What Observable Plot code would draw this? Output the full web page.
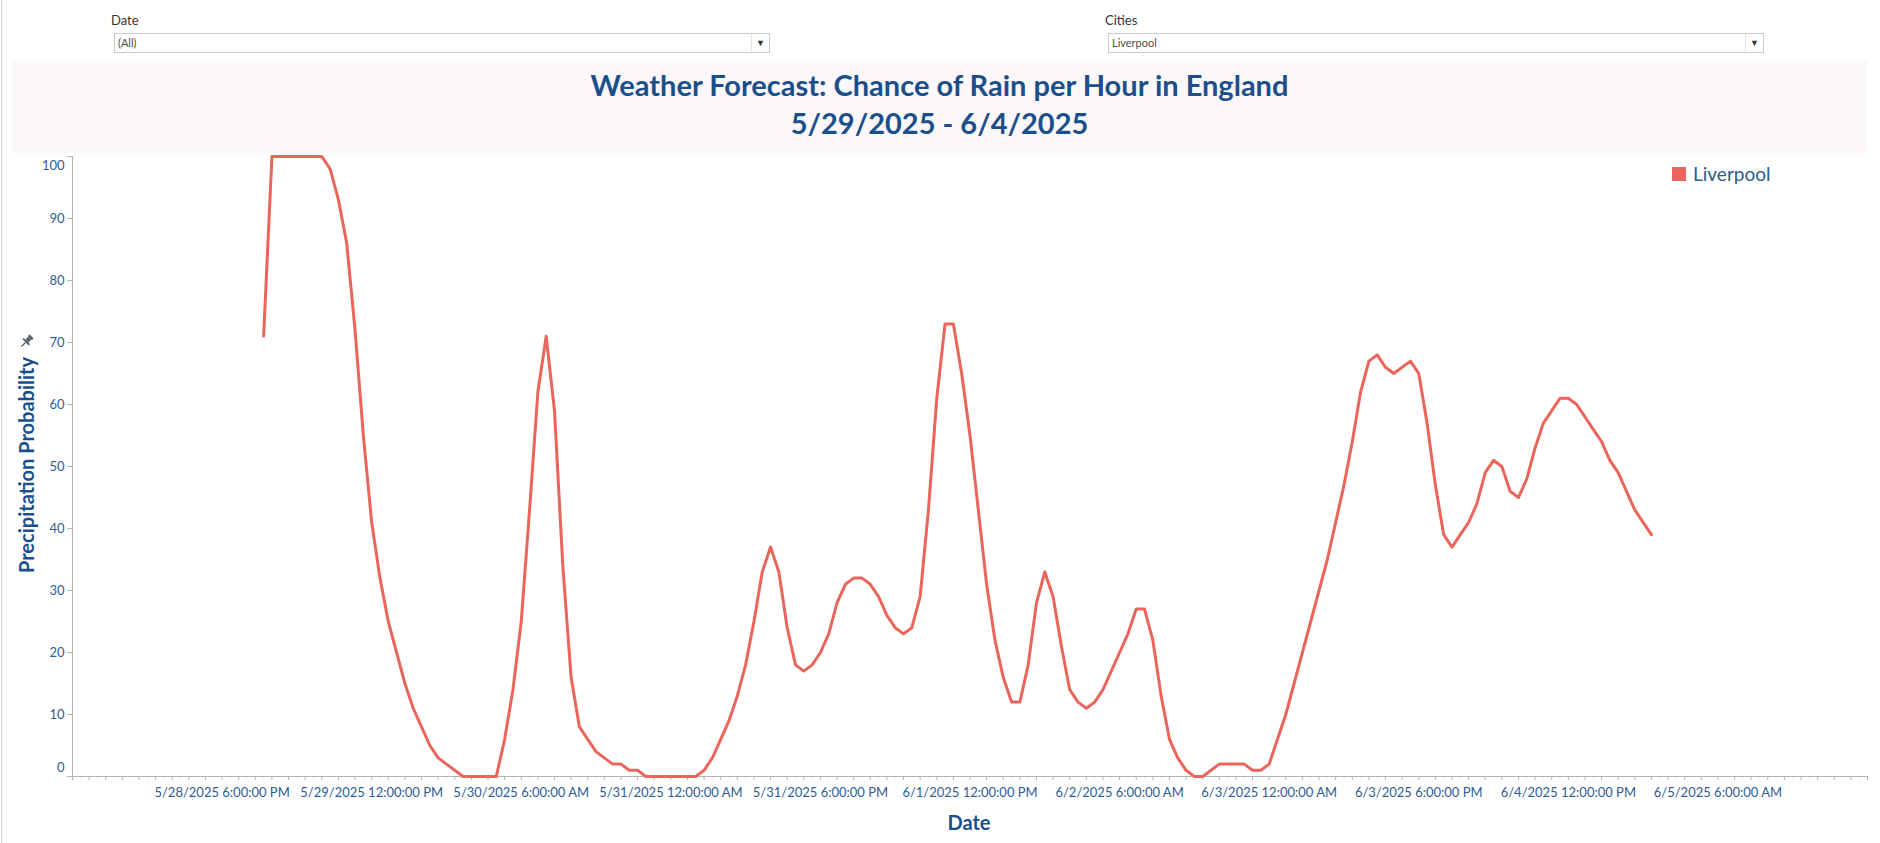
<!DOCTYPE html>
<html>
<head>
<meta charset="utf-8">
<script src="https://cdn.jsdelivr.net/npm/d3@7"></script>
<script src="https://cdn.jsdelivr.net/npm/@observablehq/plot@0.6"></script>
<style>
  html, body { margin: 0; padding: 0; }
  body { width: 1880px; height: 843px; position: relative; background: #fff; overflow: hidden; font-family: Lato, "Open Sans", sans-serif; }
  .abs { position: absolute; }
  .flabel { font-size: 13px; color: #333; line-height: 16px; }
  .dd { height: 18px; border: 1px solid #c9c9c9; background: #fff; box-sizing: content-box; }
  .dd .val { position: absolute; left: 3px; top: 0; line-height: 18px; font-size: 11px; color: #4a4a4a; }
  .dd .arr { position: absolute; right: 0; top: 0; width: 17px; height: 18px; border-left: 1px solid #e6e6e6; font-size: 9px; line-height: 18px; text-align: center; color: #333; }
  .title { left: 12px; width: 1855px; text-align: center; font-weight: 700; font-size: 29px; line-height: 34px; color: #1b4f8a; }
  .axtitle { font-weight: 700; font-size: 20px; line-height: 24px; color: #1b4f8a; white-space: nowrap; }
</style>
</head>
<body>
<div class="abs" style="left:1px;top:0;width:1px;height:843px;background:#d2d2d2"></div>

<div class="abs flabel" style="left:111px;top:12px">Date</div>
<div class="abs dd" style="left:114px;top:33px;width:654px"><span class="val">(All)</span><span class="arr">&#9660;</span></div>
<div class="abs flabel" style="left:1105px;top:12px">Cities</div>
<div class="abs dd" style="left:1108px;top:33px;width:654px"><span class="val">Liverpool</span><span class="arr">&#9660;</span></div>

<div class="abs" style="left:12px;top:61px;width:1855px;height:92px;background:#fcf7fa"></div>
<div class="abs title" style="top:68px">Weather Forecast: Chance of Rain per Hour in England</div>
<div class="abs title" style="top:106px">5/29/2025 - 6/4/2025</div>

<div id="chart" class="abs" style="left:0;top:153px"></div>

<div class="abs" id="legendSwatch" style="left:1672px;top:167px;width:14px;height:14px"></div>
<div class="abs" style="left:1693px;top:162px;font-size:19px;line-height:24px;color:#2c5b8f">Liverpool</div>

<!-- axis titles -->
<div class="abs axtitle" id="ytitle" style="left:26px;top:465px;transform:translate(-50%,-50%) rotate(-90deg)">Precipitation Probability</div>
<div class="abs axtitle" id="xtitle" style="left:969px;top:822px;transform:translate(-50%,-50%)">Date</div>

<svg class="abs" style="left:19px;top:334px" width="15" height="15" viewBox="0 0 14 14">
  <g transform="rotate(45 7 7)" fill="#5f6368">
    <rect x="4.3" y="0.3" width="5.4" height="2.2" rx="0.5"/>
    <rect x="5" y="2.5" width="4" height="4"/>
    <rect x="2.8" y="6.4" width="8.4" height="1.8" rx="0.5"/>
    <rect x="6.4" y="8" width="1.2" height="5.7"/>
  </g>
</svg>

<script>
// ---- data ----
const city = "Liverpool";
const firstHour = "2025-05-28T23:00:00Z";   // first hourly reading
const precipitation = [
  71,100,100,100,100,100,100,100,98,93,86,72,55,41,32,25,20,15,11,8,5,3,2,1,
  0,0,0,0,0,6,14,25,43,62,71,59,34,16,8,6,4,3,2,2,1,1,0,0,
  0,0,0,0,0,1,3,6,9,13,18,25,33,37,33,24,18,17,18,20,23,28,
  31,32,32,31,29,26,24,23,24,29,43,61,73,73,65,55,43,31,22,16,12,12,18,28,
  33,29,21,14,12,11,12,14,17,20,23,27,27,22,13,6,3,1,0,0,1,2,2,2,
  2,1,1,2,6,10,15,20,25,30,35,41,47,54,62,67,68,66,65,66,67,65,57,47,
  39,37,39,41,44,49,51,50,46,45,48,53,57,59,61,61,60,58,56,54,51,49,46,43,
  41,39
];
const xDomain = ["2025-05-28T00:00:00Z", "2025-06-06T00:00:00Z"];
const xLabelTicks = [
  "2025-05-28T18:00:00Z", "2025-05-29T12:00:00Z", "2025-05-30T06:00:00Z",
  "2025-05-31T00:00:00Z", "2025-05-31T18:00:00Z", "2025-06-01T12:00:00Z",
  "2025-06-02T06:00:00Z", "2025-06-03T00:00:00Z", "2025-06-03T18:00:00Z",
  "2025-06-04T12:00:00Z", "2025-06-05T06:00:00Z"
];
const yTicks = [0, 10, 20, 30, 40, 50, 60, 70, 80, 90, 100];

// ---- styles ----
const lineColor = "#ea665c";
const tickColor = "#2e5d92";
const axisGray = "#b3b3b3";

document.getElementById("legendSwatch").style.background = lineColor;

const t0 = Date.parse(firstHour);
const rows = precipitation.map((v, i) => ({date: new Date(t0 + i * 3600e3), value: v, city}));
const x0 = new Date(xDomain[0]), x1 = new Date(xDomain[1]);
const hours = d3.utcHour.range(x0, d3.utcHour.offset(x1, 1));
const evenHours = hours.filter(d => d.getUTCHours() % 2 === 0);
const oddHours = hours.filter(d => d.getUTCHours() % 2 === 1);
const labelDates = xLabelTicks.map(s => new Date(s));
const fmt = d3.utcFormat("%-m/%-d/%Y %-I:%M:%S %p");
const yMid = yTicks.filter(d => d > 0 && d < 100);
const yEnds = yTicks.filter(d => d === 0 || d === 100);

const chart = Plot.plot({
  width: 1880,
  height: 690,
  marginLeft: 72,
  marginRight: 13,
  marginTop: 3,
  marginBottom: 67,
  style: {fontFamily: "Lato, 'Open Sans', sans-serif", fontSize: "13px", background: "transparent", overflow: "visible"},
  x: {type: "utc", domain: [x0, x1]},
  y: {domain: [0, 100]},
  marks: [
    Plot.axisX(oddHours, {tickSize: 1.6, stroke: axisGray, tickFormat: () => "", label: null}),
    Plot.axisX(evenHours, {tickSize: 4, stroke: axisGray, tickFormat: () => "", label: null}),
    Plot.axisX(labelDates, {tickSize: 0, tickPadding: 11, tickFormat: fmt, fontSize: 13, fill: tickColor, label: null}),
    Plot.axisY(yMid, {tickSize: 5, tickPadding: 3, fontSize: 13, stroke: axisGray, fill: tickColor, label: null}),
    Plot.axisY(yEnds, {tickSize: 5, stroke: axisGray, tickFormat: () => "", label: null}),
    Plot.text(yEnds.filter(d => d === 100), {y: d => d, text: d => String(d), frameAnchor: "left", textAnchor: "end", dx: -8, dy: 9, fontSize: 13, fill: tickColor}),
    Plot.text(yEnds.filter(d => d === 0), {y: d => d, text: d => String(d), frameAnchor: "left", textAnchor: "end", dx: -8, dy: -9, fontSize: 13, fill: tickColor}),
    Plot.ruleY([0], {stroke: axisGray}),
    Plot.ruleX([x0], {stroke: axisGray}),
    Plot.line(rows, {x: "date", y: "value", stroke: lineColor, strokeWidth: 3, strokeLinejoin: "round"})
  ]
});
document.getElementById("chart").appendChild(chart);
</script>
</body>
</html>
